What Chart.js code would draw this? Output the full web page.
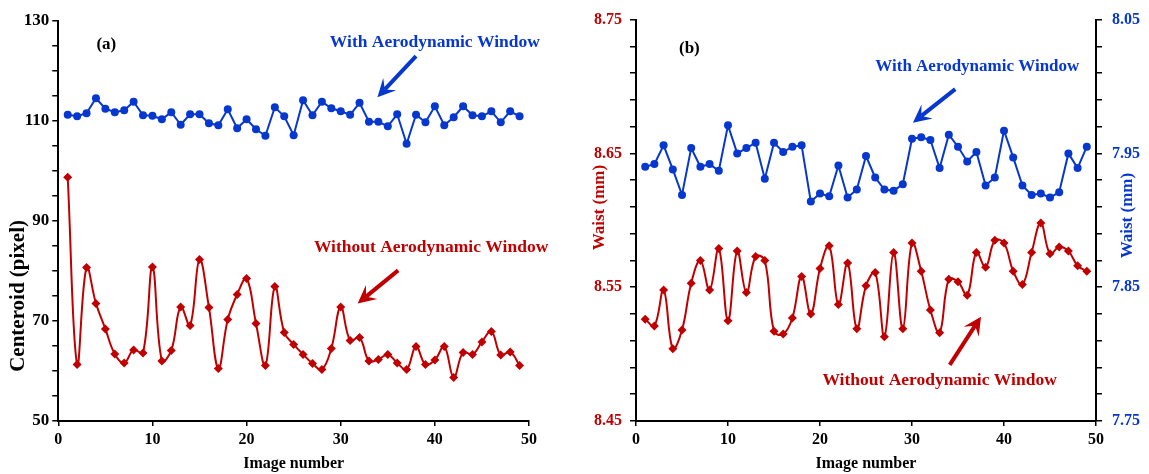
<!DOCTYPE html>
<html>
<head>
<meta charset="utf-8">
<script src="https://cdn.jsdelivr.net/npm/chart.js@4.4.1/dist/chart.umd.min.js"></script>
<style>
  html, body { margin: 0; padding: 0; background: #fff; }
  #wrap { position: relative; width: 1149px; height: 474px; }
  canvas { position: absolute; top: 0; }
  #left { left: 0; }
  #right { left: 560px; }
</style>
</head>
<body>
<div id="wrap">
  <canvas id="left" width="560" height="474"></canvas>
  <canvas id="right" width="589" height="474"></canvas>
</div>
<script>
// ---- data ----
const imageNumbers = [1, 2, 3, 4, 5, 6, 7, 8, 9, 10, 11, 12, 13, 14, 15, 16, 17, 18, 19, 20,
  21, 22, 23, 24, 25, 26, 27, 28, 29, 30, 31, 32, 33, 34, 35, 36, 37, 38, 39, 40,
  41, 42, 43, 44, 45, 46, 47, 48, 49];

// (a) centroid, pixel
const centroidWith = [111.2, 110.9, 111.5, 114.5, 112.4, 111.7, 112.1, 113.8, 111.1, 111.0,
  110.3, 111.7, 109.2, 111.3, 111.3, 109.5, 109.1, 112.3, 108.5, 110.3,
  108.3, 107.0, 112.7, 110.9, 107.1, 114.1, 111.1, 113.8, 112.5, 111.9,
  111.2, 113.6, 109.8, 109.8, 108.9, 111.3, 105.4, 111.2, 109.7, 112.9,
  109.1, 110.7, 112.9, 111.1, 110.9, 111.9, 109.7, 111.9, 110.9];
const centroidWithout = [98.7, 61.3, 80.7, 73.5, 68.4, 63.4, 61.6, 64.2, 63.6, 80.8,
  62.0, 64.1, 72.8, 69.1, 82.3, 72.7, 60.5, 70.3, 75.3, 78.5,
  69.5, 61.1, 76.9, 67.7, 65.3, 63.3, 61.5, 60.3, 64.5, 72.8,
  66.1, 66.7, 62.0, 62.3, 63.3, 61.6, 60.3, 64.9, 61.3, 62.2,
  64.9, 58.7, 63.7, 63.3, 65.8, 67.9, 63.2, 63.8, 61.1];

// (b) waist, mm  (with window -> right axis, without -> left axis)
const waistWith = [7.940, 7.942, 7.956, 7.938, 7.919, 7.954, 7.940, 7.942, 7.937, 7.971,
  7.950, 7.954, 7.958, 7.931, 7.958, 7.951, 7.955, 7.956, 7.914, 7.920,
  7.918, 7.941, 7.917, 7.923, 7.948, 7.932, 7.923, 7.922, 7.927, 7.961,
  7.962, 7.960, 7.939, 7.964, 7.955, 7.944, 7.951, 7.926, 7.932, 7.967,
  7.947, 7.926, 7.919, 7.920, 7.917, 7.921, 7.950, 7.939, 7.955];
const waistWithout = [8.526, 8.521, 8.548, 8.504, 8.518, 8.553, 8.570, 8.548, 8.579, 8.525,
  8.577, 8.546, 8.573, 8.570, 8.517, 8.515, 8.527, 8.558, 8.530, 8.564,
  8.581, 8.537, 8.568, 8.519, 8.551, 8.561, 8.513, 8.576, 8.519, 8.583,
  8.562, 8.533, 8.516, 8.556, 8.554, 8.544, 8.576, 8.565, 8.585, 8.583,
  8.562, 8.552, 8.576, 8.598, 8.575, 8.580, 8.577, 8.566, 8.562];

const BLUE = '#0637cf';
const RED = '#c00000';
const SERIF = '"Liberation Serif", "Times New Roman", serif';

function pairs(values) {
  return imageNumbers.map((n, i) => ({ x: n, y: values[i] }));
}

function font(size) {
  return { family: SERIF, size: size, weight: 'bold' };
}

// texts, arrows and rotated axis titles drawn over the plot
const notesPlugin = {
  id: 'notes',
  afterDatasetsDraw(chart, args, opts) {
    const ctx = chart.ctx;
    const xs = chart.scales.x;
    const ys = chart.scales.y;
    ctx.save();

    (opts.arrows || []).forEach(a => {
      const x1 = xs.getPixelForValue(a.from[0]), y1 = ys.getPixelForValue(a.from[1]);
      const x2 = xs.getPixelForValue(a.to[0]), y2 = ys.getPixelForValue(a.to[1]);
      const ang = Math.atan2(y2 - y1, x2 - x1);
      const c = Math.cos(ang), s = Math.sin(ang);
      const len = 18, half = 9;
      ctx.strokeStyle = a.color;
      ctx.fillStyle = a.color;
      ctx.lineWidth = 4;
      ctx.beginPath();
      ctx.moveTo(x1, y1);
      ctx.lineTo(x2 - len * 0.6 * c, y2 - len * 0.6 * s);
      ctx.stroke();
      ctx.beginPath();
      ctx.moveTo(x2, y2);
      ctx.lineTo(x2 - len * c + half * s, y2 - len * s - half * c);
      ctx.lineTo(x2 - len * 0.6 * c, y2 - len * 0.6 * s);
      ctx.lineTo(x2 - len * c - half * s, y2 - len * s + half * c);
      ctx.closePath();
      ctx.fill();
    });

    ctx.textAlign = 'center';
    ctx.textBaseline = 'middle';
    (opts.labels || []).forEach(t => {
      ctx.font = 'bold ' + t.size + 'px ' + SERIF;
      ctx.fillStyle = t.color;
      ctx.fillText(t.text, xs.getPixelForValue(t.x), ys.getPixelForValue(t.y));
    });

    (opts.sideTitles || []).forEach(t => {
      const sc = chart.scales[t.axis];
      ctx.save();
      ctx.translate(t.px, sc.getPixelForValue(t.y));
      ctx.rotate(-Math.PI / 2);
      ctx.font = 'bold ' + t.size + 'px ' + SERIF;
      ctx.fillStyle = t.color;
      ctx.fillText(t.text, 0, 0);
      ctx.restore();
    });

    ctx.restore();
  }
};

const axisGrid = { drawOnChartArea: false, color: '#000', lineWidth: 1.5, tickLength: 6 };
const axisBorder = { display: true, color: '#000', width: 2 };

function xAxis() {
  return {
    type: 'linear', min: 0, max: 50,
    ticks: { stepSize: 10, color: '#000', font: font(16), padding: 4 },
    grid: Object.assign({}, axisGrid, { tickLength: 5 }),
    border: axisBorder,
    title: { display: true, text: 'Image number', color: '#000', font: font(16), padding: { top: 0, bottom: 1 } },
    afterFit(scale) { scale.height = 53; }
  };
}

// ---- (a) ----
new Chart(document.getElementById('left'), {
  type: 'line',
  data: {
    datasets: [
      {
        label: 'With Aerodynamic Window', data: pairs(centroidWith),
        borderColor: BLUE, backgroundColor: BLUE, borderWidth: 2,
        pointStyle: 'circle', pointRadius: 4, pointBorderWidth: 0, tension: 0
      },
      {
        label: 'Without Aerodynamic Window', data: pairs(centroidWithout),
        borderColor: RED, backgroundColor: RED, borderWidth: 2,
        pointStyle: 'rectRot', pointRadius: 4.5, pointBorderWidth: 0, tension: 0.4
      }
    ]
  },
  options: {
    responsive: false,
    animation: false,
    layout: { padding: { left: 0, right: 31, top: 20.7, bottom: 0 } },
    plugins: {
      legend: { display: false },
      tooltip: { enabled: false },
      notes: {
        labels: [
          { text: '(a)', x: 5.1, y: 125.3, size: 17, color: '#000' },
          { text: 'With Aerodynamic Window', x: 40.0, y: 125.7, size: 17.5, color: BLUE },
          { text: 'Without Aerodynamic Window', x: 39.6, y: 84.7, size: 17.5, color: RED }
        ],
        arrows: [
          { from: [38.0, 122.9], to: [33.9, 114.7], color: BLUE },
          { from: [36.1, 80.1], to: [31.8, 73.5], color: RED }
        ],
        sideTitles: [
          { text: 'Centeroid (pixel)', axis: 'y', px: 18.5, y: 75, size: 21, color: '#000' }
        ]
      }
    },
    scales: {
      x: xAxis(),
      y: {
        min: 50, max: 130,
        ticks: {
          stepSize: 5, color: '#000', font: font(17), padding: 3,
          callback: (v, i) => (i % 4 === 0 ? v : '')
        },
        grid: axisGrid,
        border: axisBorder,
        afterFit(scale) { scale.width = 58.3; }
      }
    }
  },
  plugins: [notesPlugin]
});

// ---- (b) ----
new Chart(document.getElementById('right'), {
  type: 'line',
  data: {
    datasets: [
      {
        label: 'With Aerodynamic Window', data: pairs(waistWith), yAxisID: 'y1',
        borderColor: BLUE, backgroundColor: BLUE, borderWidth: 2,
        pointStyle: 'circle', pointRadius: 4, pointBorderWidth: 0, tension: 0
      },
      {
        label: 'Without Aerodynamic Window', data: pairs(waistWithout), yAxisID: 'y',
        borderColor: RED, backgroundColor: RED, borderWidth: 2,
        pointStyle: 'rectRot', pointRadius: 4.5, pointBorderWidth: 0, tension: 0.4
      }
    ]
  },
  options: {
    responsive: false,
    animation: false,
    layout: { padding: { left: 0, right: 0, top: 14.7, bottom: 0 } },
    plugins: {
      legend: { display: false },
      tooltip: { enabled: false },
      notes: {
        labels: [
          { text: '(b)', x: 5.8, y: 8.7284, size: 17, color: '#000' },
          { text: 'With Aerodynamic Window', x: 37.1, y: 8.715, size: 17, color: BLUE },
          { text: 'Without Aerodynamic Window', x: 33.0, y: 8.480, size: 17.5, color: RED }
        ],
        arrows: [
          { from: [34.7, 8.698], to: [30.1, 8.673], color: BLUE },
          { from: [34.1, 8.492], to: [37.5, 8.528], color: RED }
        ],
        sideTitles: [
          { text: 'Waist (mm)', axis: 'y', px: 40, y: 8.6095, size: 17, color: RED },
          { text: 'Waist (mm)', axis: 'y1', px: 568, y: 7.9035, size: 17, color: BLUE }
        ]
      }
    },
    scales: {
      x: xAxis(),
      y: {
        position: 'left', min: 8.45, max: 8.75,
        ticks: {
          stepSize: 0.02, color: RED, font: font(16), padding: 8,
          callback: (v, i) => (i % 5 === 0 ? v.toFixed(2) : '')
        },
        grid: axisGrid,
        border: axisBorder,
        afterFit(scale) { scale.width = 76; }
      },
      y1: {
        position: 'right', min: 7.75, max: 8.05,
        ticks: {
          stepSize: 0.02, color: BLUE, font: font(16), padding: 10,
          callback: (v, i) => (i % 5 === 0 ? v.toFixed(2) : '')
        },
        grid: axisGrid,
        border: axisBorder,
        afterFit(scale) { scale.width = 53; }
      }
    }
  },
  plugins: [notesPlugin]
});
</script>
</body>
</html>
